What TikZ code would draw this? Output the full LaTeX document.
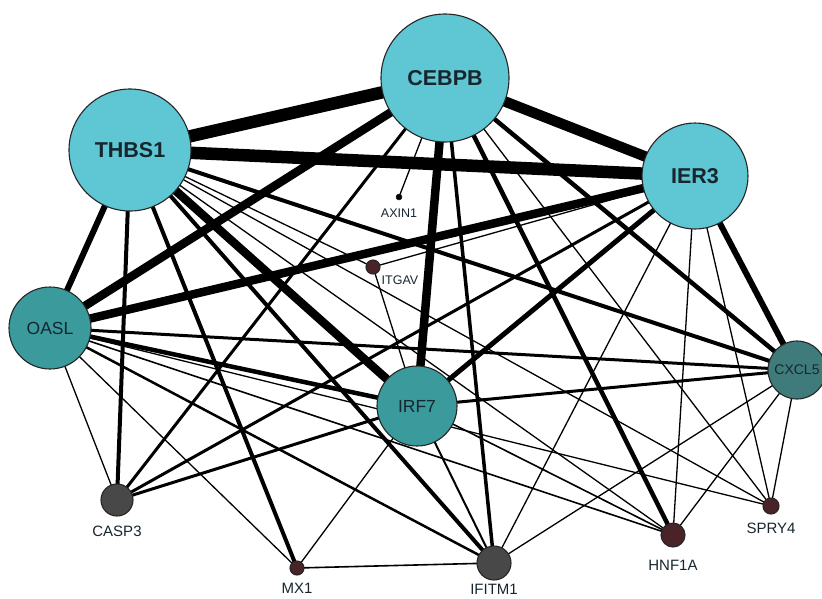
\documentclass[tikz,border=0pt]{standalone}
\usepackage{fontspec}
\setmainfont{Liberation Sans}
\usetikzlibrary{backgrounds}
\definecolor{hubcyan}{HTML}{5FC6D3}
\definecolor{midteal}{HTML}{3A9A9C}
\definecolor{darkteal}{HTML}{3F7B7A}
\definecolor{leafgray}{HTML}{484848}
\definecolor{leafred}{HTML}{4A2328}
\definecolor{labelink}{HTML}{17262E}

\begin{document}
\begin{tikzpicture}[x=1pt,y=-1pt,
	every label/.style={font=\fontsize{15}{15}\selectfont,text=labelink,inner sep=0pt}]
	 \tikzstyle{vertex}=[circle,draw=black!85,line width=1.1pt,inner sep=0pt,text=labelink]
	 \tikzstyle{hub vertex}=[vertex,fill=hubcyan,font=\bfseries\fontsize{21.5}{21.5}\selectfont]
	 \tikzstyle{mid vertex}=[vertex,fill=midteal,font=\fontsize{17.5}{17.5}\selectfont]
	 \tikzstyle{leaf vertex}=[vertex]
	 \tikzstyle{thin edge}=[draw,line width=1.3pt,black]
	 \tikzstyle{edge}=[draw,line width=2.5pt,black]
	 \tikzstyle{mid edge}=[draw,line width=4pt,black]
	 \tikzstyle{thick edge}=[draw,line width=6pt,black]
	 \tikzstyle{heavy edge}=[draw,line width=8.5pt,black]
	 \tikzstyle{huge edge}=[draw,line width=12.5pt,black]
	 \useasboundingbox (0,0) rectangle (822,598);
	 \node[hub vertex, minimum size=128pt] (cebpb) at (445,78) {CEBPB};
	 \node[hub vertex, minimum size=122pt] (thbs1) at (130,150) {THBS1};
	 \node[hub vertex, minimum size=106pt] (ier3) at (695,176) {IER3};
	 \node[mid vertex, minimum size=82pt] (oasl) at (50,328) {OASL};
	 \node[mid vertex, minimum size=80pt] (irf7) at (417,406) {IRF7};
	 \node[mid vertex, fill=darkteal, minimum size=58pt, font=\fontsize{14}{14}\selectfont] (cxcl5) at (797,370) {CXCL5};
	 \node[leaf vertex, fill=leafgray, minimum size=32pt, label={[label distance=9.5pt]below:CASP3}] (casp3) at (117,500) {};
	 \node[leaf vertex, fill=leafred, minimum size=14pt, label={[label distance=7pt]below:MX1}] (mx1) at (297,568) {};
	 \node[leaf vertex, fill=leafgray, minimum size=34pt, label={[label distance=3pt]below:IFITM1}] (ifitm1) at (494,563) {};
	 \node[leaf vertex, fill=leafred, minimum size=24pt, label={[label distance=12pt]below:HNF1A}] (hnf1a) at (673,535) {};
	 \node[leaf vertex, fill=leafred, minimum size=16pt, label={[label distance=8pt]below:SPRY4}] (spry4) at (771,506) {};
	 \node[vertex, fill=black, minimum size=6pt, line width=0.5pt,
	   label={[label distance=8pt,font=\fontsize{12.5}{12.5}\selectfont]below:AXIN1}] (axin1) at (399,197) {};
	 \node[vertex, fill=leafred, minimum size=14pt,
	   label={[label distance=4.5pt,font=\fontsize{12.5}{12.5}\selectfont]south east:ITGAV}] (itgav) at (373,267) {};
	 \begin{pgfonlayer}{background}
	 % hubs
	 \draw[huge edge] (cebpb.center) -- (thbs1.center);
	 \draw[huge edge] (thbs1.center) -- (ier3.center);
	 \draw[heavy edge, line width=10.5pt] (cebpb.center) -- (ier3.center);
	 \draw[heavy edge] (cebpb.center) -- (oasl.center);
	 \draw[heavy edge] (oasl.center) -- (ier3.center);
	 \draw[heavy edge] (cebpb.center) -- (irf7.center);
	 \draw[heavy edge] (thbs1.center) -- (irf7.center);
	 \draw[thick edge] (thbs1.center) -- (oasl.center);
	 \draw[thick edge] (ier3.center) -- (cxcl5.center);
	 \draw[thick edge, line width=5pt] (ier3.center) -- (irf7.center);
	 % medium
	 \draw[mid edge, line width=4.5pt] (cebpb.center) -- (cxcl5.center);
	 \draw[mid edge, line width=4.5pt] (cebpb.center) -- (hnf1a.center);
	 \draw[mid edge, line width=4.5pt] (oasl.center) -- (irf7.center);
	 \draw[mid edge] (thbs1.center) -- (cxcl5.center);
	 \draw[mid edge] (thbs1.center) -- (casp3.center);
	 \draw[mid edge] (thbs1.center) -- (mx1.center);
	 \draw[mid edge] (thbs1.center) -- (ifitm1.center);
	 \draw[edge, line width=3.5pt] (cebpb.center) -- (ifitm1.center);
	 \draw[edge, line width=3pt] (cebpb.center) -- (casp3.center);
	 \draw[edge, line width=3pt] (oasl.center) -- (cxcl5.center);
	 \draw[edge, line width=3pt] (irf7.center) -- (cxcl5.center);
	 \draw[edge, line width=3pt] (ier3.center) -- (casp3.center);
	 \draw[edge, line width=3pt] (irf7.center) -- (casp3.center);
	 \draw[edge] (oasl.center) -- (ifitm1.center);
	 \draw[edge, line width=2pt] (irf7.center) -- (ifitm1.center);
	 % thin
	 \draw[thin edge] (cebpb.center) -- (axin1.center);
	 \draw[thin edge] (cebpb.center) -- (spry4.center);
	 \draw[thin edge] (thbs1.center) -- (itgav.center) -- (ier3.center);
	 \draw[thin edge] (itgav.center) -- (irf7.center);
	 \draw[thin edge] (thbs1.center) -- (spry4.center);
	 \draw[thin edge] (thbs1.center) -- (hnf1a.center);
	 \draw[thin edge] (ier3.center) -- (ifitm1.center);
	 \draw[thin edge] (ier3.center) -- (hnf1a.center);
	 \draw[thin edge] (ier3.center) -- (spry4.center);
	 \draw[thin edge] (cxcl5.center) -- (ifitm1.center);
	 \draw[thin edge] (cxcl5.center) -- (hnf1a.center);
	 \draw[thin edge] (cxcl5.center) -- (spry4.center);
	 \draw[thin edge, line width=1.6pt] (mx1.center) -- (ifitm1.center);
	 \draw[thin edge] (mx1.center) -- (irf7.center);
	 \draw[thin edge] (oasl.center) -- (mx1.center);
	 \draw[thin edge] (oasl.center) -- (casp3.center);
	 \draw[thin edge, line width=1.6pt] (oasl.center) -- (hnf1a.center);
	 \draw[thin edge] (oasl.center) -- (spry4.center);
	 \draw[thin edge, line width=1.6pt] (irf7.center) -- (hnf1a.center);
	 \end{pgfonlayer}
 \end{tikzpicture}
\end{document}
